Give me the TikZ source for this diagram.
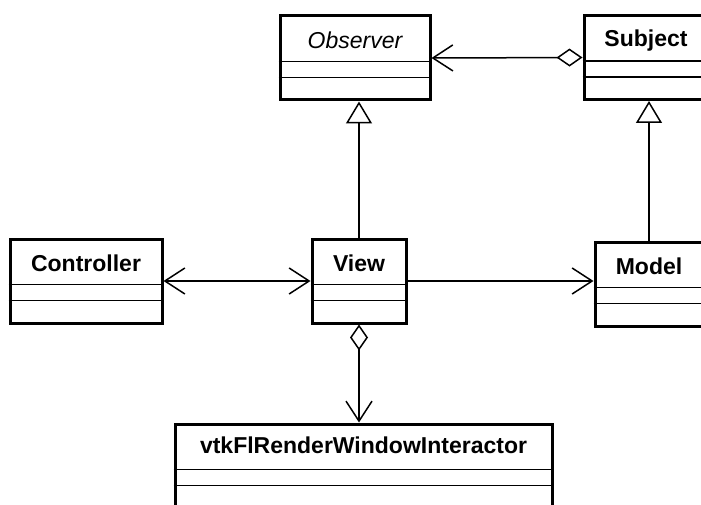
\documentclass[tikz,border=0pt]{standalone}
\usepackage{fontspec}
\setmainfont{Liberation Sans}
\usetikzlibrary{arrows.meta,positioning,calc}

\tikzset{
    classbox/.style={draw, line width=3pt, inner sep=0pt, minimum width=#1, minimum height=84pt},
    classname/.style={anchor=base, inner sep=0pt, font=\fontsize{23}{23}\selectfont\bfseries},
    compart/.style={line width=1.5pt},
    assoc/.style={line width=1.5pt},
    aggr/.tip={Diamond[open, length=26pt, width=18pt, line width=1.5pt]},
    nav/.tip={Straight Barb[length=20pt, width=26pt, line width=1.5pt]},
    inherit/.tip={Triangle[open, length=22pt, width=26pt, line width=1.5pt]}
}

\begin{document}
\begin{tikzpicture}[x=1pt, y=-1pt]
    \clip (0,0) rectangle (701,505);

    % Classes
    \node[classbox=150pt] (obs)   at (355,58)    {};
    \node[classbox=124pt] (subj)  at (646,57.5)  {};
    \node[classbox=152pt] (ctrl)  at (86,281)    {};
    \node[classbox=94pt]  (view)  at (359,281)   {};
    \node[classbox=108pt] (model) at (649,284)   {};
    \node[classbox=377pt] (vtk)   at (363.5,466) {};

    % Class names
    \node[classname, font=\fontsize{23}{23}\selectfont\itshape] (obsname) at ([yshift=-34pt]obs.north) {Observer};
    \node[classname] (subjname)  at ([yshift=-33pt]subj.north)  {Subject};
    \node[classname] (ctrlname)  at ([yshift=-34pt]ctrl.north)  {Controller};
    \node[classname] (viewname)  at ([yshift=-34pt]view.north)  {View};
    \node[classname] (modelname) at ([yshift=-34pt]model.north) {Model};
    \node[classname] (vtkname)   at ([yshift=-31pt]vtk.north)   {vtkFlRenderWindowInteractor};

    % Compartments
    \foreach \b in {obs,subj,ctrl,view,model,vtk} {
        \draw[compart] ([yshift=-47pt]\b.north west) -- ([yshift=-47pt]\b.north east);
        \draw[compart] ([yshift=-63pt]\b.north west) -- ([yshift=-63pt]\b.north east);
    }

    % Relations
    \draw[assoc, aggr-nav] (subj.west) -- (obs.east);
    \draw[assoc, -inherit] (view.north) -- (view.north |- obs.south);
    \draw[assoc, -inherit] (model.north) -- (model.north |- subj.south);
    \draw[assoc, nav-nav] (ctrl.east) -- (view.west);
    \draw[assoc, -nav] (view.east) -- (view.east -| model.west);
    \draw[assoc, aggr-nav] (view.south) -- (view.south |- vtk.north);
\end{tikzpicture}
\end{document}
